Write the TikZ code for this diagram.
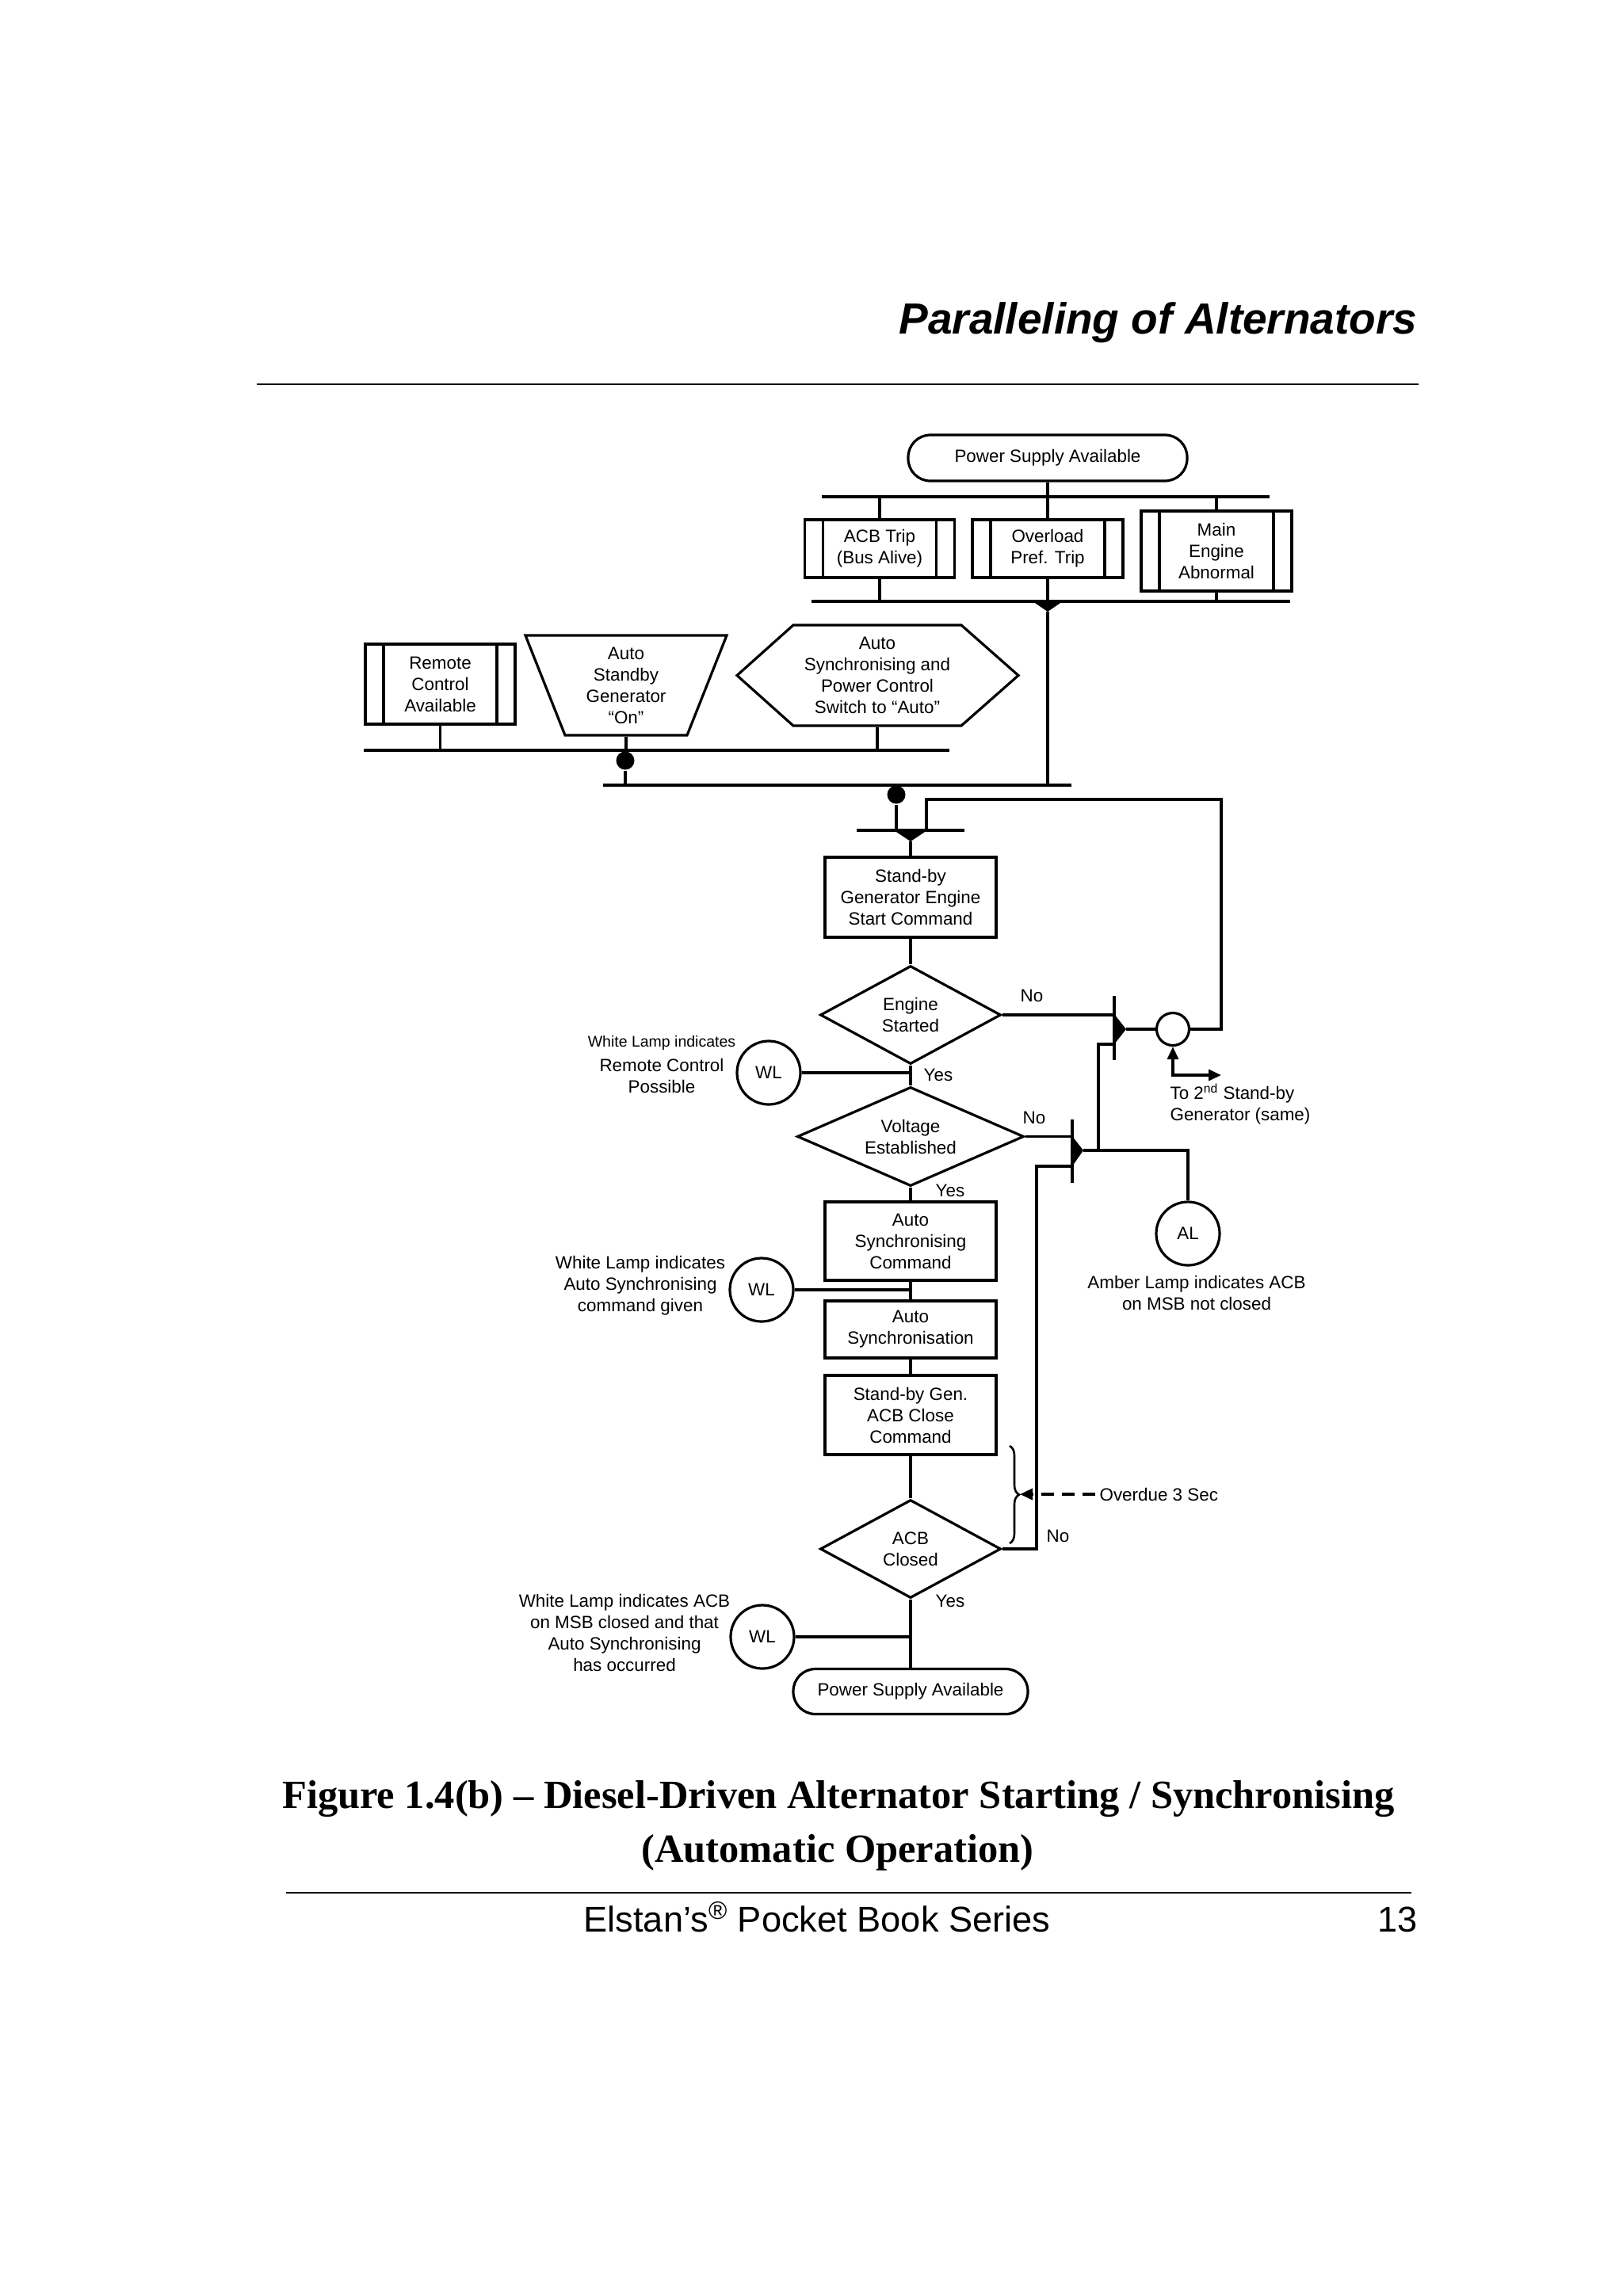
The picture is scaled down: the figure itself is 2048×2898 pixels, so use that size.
\documentclass[tikz,border=0pt]{standalone}
\usepackage{fontspec}
\setmainfont{Liberation Sans}
\newfontfamily\capfont{Liberation Serif}
\usetikzlibrary{shapes.geometric,arrows.meta,decorations.pathreplacing,calc}
\tikzset{ftip/.tip={Triangle[length=8pt,width=7pt]}}
\begin{document}
\begin{tikzpicture}[x=0.5pt,y=-0.5pt,line width=1.6pt,
  txt/.style={font=\fontsize{11.2}{13.5}\selectfont,align=center,inner sep=0pt},
  box/.style={draw,txt,minimum width=108pt},
  term/.style={draw,txt,rounded corners=14pt},
  pbox/.style={box,path picture={
    \draw[line width=1.6pt] ([xshift=11.5pt]path picture bounding box.north west) -- ([xshift=11.5pt]path picture bounding box.south west);
    \draw[line width=1.6pt] ([xshift=-11.5pt]path picture bounding box.north east) -- ([xshift=-11.5pt]path picture bounding box.south east);}},
  dia/.style={draw,diamond,txt,aspect=1.8},
  lamp/.style={draw,circle,txt,minimum size=40pt},
  dot/.style={circle,fill,minimum size=11.5pt,inner sep=0pt}]
\fill[white] (0,0) rectangle (2048,2898);
\useasboundingbox (0,0) rectangle (2048,2898);

% header
\node[anchor=base east,inner sep=0pt,font=\fontsize{27.5}{32}\selectfont\bfseries\itshape] (title) at (1790,421) {Paralleling of Alternators};
\coordinate (r1a) at (324,485); \coordinate (r1b) at (1790,485);
\draw[line width=1.3pt] (r1a) -- (r1b);

% buses
\coordinate (b0w) at (1037,627);  \coordinate (b0e) at (1602,627);
\coordinate (b1w) at (1024,759);  \coordinate (b1e) at (1628,759);
\coordinate (b2w) at (459,947);   \coordinate (b2e) at (1198,947);
\coordinate (b3w) at (761,991);   \coordinate (b3e) at (1352,991);
\coordinate (b4w) at (1081,1048); \coordinate (b4e) at (1217,1048);
\foreach \b in {b0,b1,b2,b3,b4} \draw (\b w) -- (\b e);

% top block
\node[term,minimum width=176pt,minimum height=29pt] (psa1) at (1322,578) {Power Supply Available};
\node[pbox,minimum width=94.5pt,minimum height=36.5pt] (acb) at (1110,692.5) {ACB Trip\\(Bus Alive)};
\node[pbox,minimum width=95pt,minimum height=36.5pt] (ovl) at (1322,692.5) {Overload\\Pref. Trip};
\node[pbox,minimum width=95pt,minimum height=50.5pt] (mea) at (1535,695.5) {Main\\Engine\\Abnormal};
\draw (psa1.south) -- (psa1.south |- b0w);
\foreach \n in {acb,ovl,mea} {\draw (\n.north) -- (\n.north |- b0w); \draw (\n.south) -- (\n.south |- b1w);}
\coordinate (t1) at (1322,772);
\fill ($(t1)+(-19,-13)$) -- ($(t1)+(19,-13)$) -- (t1) -- cycle;
\draw (t1) -- (t1 |- b3w);

% middle row
\node[pbox,minimum width=94.5pt,minimum height=50.5pt] (rca) at (555.5,863.5) {Remote\\Control\\Available};
\node[txt,minimum height=63pt] (asg) at (790,865) {Auto\\Standby\\Generator\\“On”};
\draw (asg.center) ++(-127,-63) -- ++(254,0) -- ++(-50,126) -- ++(-154,0) -- cycle;
\node[txt,minimum height=63.5pt] (hex) at (1107,852.5) {Auto\\Synchronising and\\Power Control\\Switch to “Auto”};
\draw ($(hex)+(-177,0)$) -- ($(hex)+(-106,-63.5)$) -- ($(hex)+(106,-63.5)$) -- ($(hex)+(178,0)$) -- ($(hex)+(106,63.5)$) -- ($(hex)+(-106,63.5)$) -- cycle;
\draw (rca.south) -- (rca.south |- b2w);
\draw (asg.south) -- (asg.south |- b2w);
\draw (hex.south) -- (hex.south |- b2w);
\node[dot] (d1) at (789,960) {};
\draw (d1 |- b2w) -- (d1) -- (d1 |- b3w);
\node[dot] (d2) at (1131,1003) {};
\draw (d2 |- b3w) -- (d2) -- (d2 |- b4w);
\coordinate (t2) at (1149,1062);
\fill ($(t2)+(-21,-14)$) -- ($(t2)+(21,-14)$) -- (t2) -- cycle;

% main column
\node[box,minimum height=50.5pt] (sb) at (1149,1132.5) {Stand-by\\Generator Engine\\Start Command};
\node[dia,minimum width=114pt,minimum height=62pt] (es) at (1149,1281) {Engine\\Started};
\node[dia,minimum width=143pt,minimum height=62.5pt,aspect=2.3] (ve) at (1149,1434.5) {Voltage\\Established};
\node[box,minimum height=49.5pt] (asc) at (1149,1566.5) {Auto\\Synchronising\\Command};
\node[box,minimum height=36pt] (as) at (1149,1678) {Auto\\Synchronisation};
\node[box,minimum height=50pt] (acc) at (1149,1786) {Stand-by Gen.\\ACB Close\\Command};
\node[dia,minimum width=114pt,minimum height=62pt] (acbd) at (1149,1955) {ACB\\Closed};
\node[term,minimum width=148pt,minimum height=28.5pt] (psa2) at (1149,2135) {Power Supply Available};
\draw (t2) -- (sb.north);
\draw (sb) -- (es);
\draw (es) -- (ve);
\draw (ve) -- (asc);
\draw (asc) -- (as);
\draw (as) -- (acc);
\draw (acc) -- (acbd);
\draw (acbd) -- (psa2);

% lamps
\node[lamp] (wl1) at (970,1354) {WL};
\node[lamp] (wl2) at (961,1628) {WL};
\node[lamp] (wl3) at (962,2066) {WL};
\node[lamp] (al) at (1499,1557) {AL};
\draw (wl1.east) -- (wl1.east -| es.south);
\draw (wl2.east) -- (wl2.east -| asc.south);
\draw (wl3.east) -- (wl3.east -| acbd.south);

% right-hand logic
\node[circle,draw,minimum size=20.5pt,inner sep=0pt] (jc) at (1480,1299) {};
\coordinate (bar1t) at (1406,1257); \coordinate (bar1b) at (1406,1338);
\draw (bar1t) -- (bar1b);
\coordinate (a1) at (1421,1299);
\fill (1406,1280) -- (a1) -- (1406,1318) -- cycle;
\draw (es.east) -- (es.east -| bar1t);
\draw (a1) -- (jc.west);
\coordinate (fbtop) at (1541,1009); \coordinate (fbin) at (1169,1048);
\draw (jc.east) -| (fbtop) -| (fbin);
\coordinate (arr) at (1541,1357);
\draw[ftip-ftip] (jc.south) |- (arr);
\coordinate (j2) at (1386,1452); \coordinate (bar1in) at (1406,1318);
\draw (j2) |- (bar1in);
\coordinate (bar2t) at (1353,1413); \coordinate (bar2b) at (1353,1493);
\draw (bar2t) -- (bar2b);
\coordinate (a2) at (1367,1452);
\fill (1353,1434) -- (a2) -- (1353,1472) -- cycle;
\draw (ve.east) -- (ve.east -| bar2t);
\draw (a2) -| (al.north);
\coordinate (c1) at (1308,1472); \coordinate (bar2in) at (1353,1472);
\draw (acbd.east) -| (c1) -- (bar2in);

% brace and overdue
\coordinate (br1) at (1274,1825); \coordinate (br2) at (1274,1948);
\draw[line width=1.3pt,decorate,decoration={brace,amplitude=6pt}] (br1) -- (br2);
\coordinate (brt) at (1287,1886);
\node[txt,anchor=west] (ovd) at (1386,1886) {Overdue 3 Sec};
\draw[line width=1.8pt,dash pattern=on 8pt off 5pt,-ftip] ([xshift=-2pt]ovd.west) -- (brt);

% labels
\node[txt] (no1) at (1302,1257) {No};
\node[txt] (no2) at (1305,1411) {No};
\node[txt] (no3) at (1335,1939) {No};
\node[txt] (yes1) at (1184,1357) {Yes};
\node[txt] (yes2) at (1199,1503) {Yes};
\node[txt] (yes3) at (1199,2021) {Yes};
\node[txt,anchor=west,align=left] (to2) at (1475,1394) {To 2\textsuperscript{nd} Stand-by\\Generator (same)};
\node[txt] (wl1t) at (835,1344) {{\fontsize{9.75}{12}\selectfont White Lamp indicates}\\[2pt]Remote Control\\Possible};
\node[txt] (wl2t) at (808,1623) {White Lamp indicates\\Auto Synchronising\\command given};
\node[txt] (wl3t) at (788,2061) {White Lamp indicates ACB\\on MSB closed and that\\Auto Synchronising\\has occurred};
\node[txt] (alt) at (1510,1632) {Amber Lamp indicates ACB\\on MSB not closed};

% caption and footer
\node[anchor=base,inner sep=0pt,font=\capfont\bfseries\fontsize{25.25}{30}\selectfont] (cap1) at (1058,2282) {Figure 1.4(b) – Diesel-Driven Alternator Starting / Synchronising};
\node[anchor=base,inner sep=0pt,font=\capfont\bfseries\fontsize{25.25}{30}\selectfont] (cap2) at (1057,2350) {(Automatic Operation)};
\coordinate (r2a) at (361,2389); \coordinate (r2b) at (1781,2389);
\draw[line width=1.3pt] (r2a) -- (r2b);
\node[anchor=base,inner sep=0pt,font=\fontsize{22.6}{26}\selectfont] (foot) at (1031,2438) {Elstan’s\textsuperscript{®} Pocket Book Series};
\node[anchor=base east,inner sep=0pt,font=\fontsize{22.6}{26}\selectfont] (pg) at (1790,2438) {13};
\end{tikzpicture}
\end{document}
